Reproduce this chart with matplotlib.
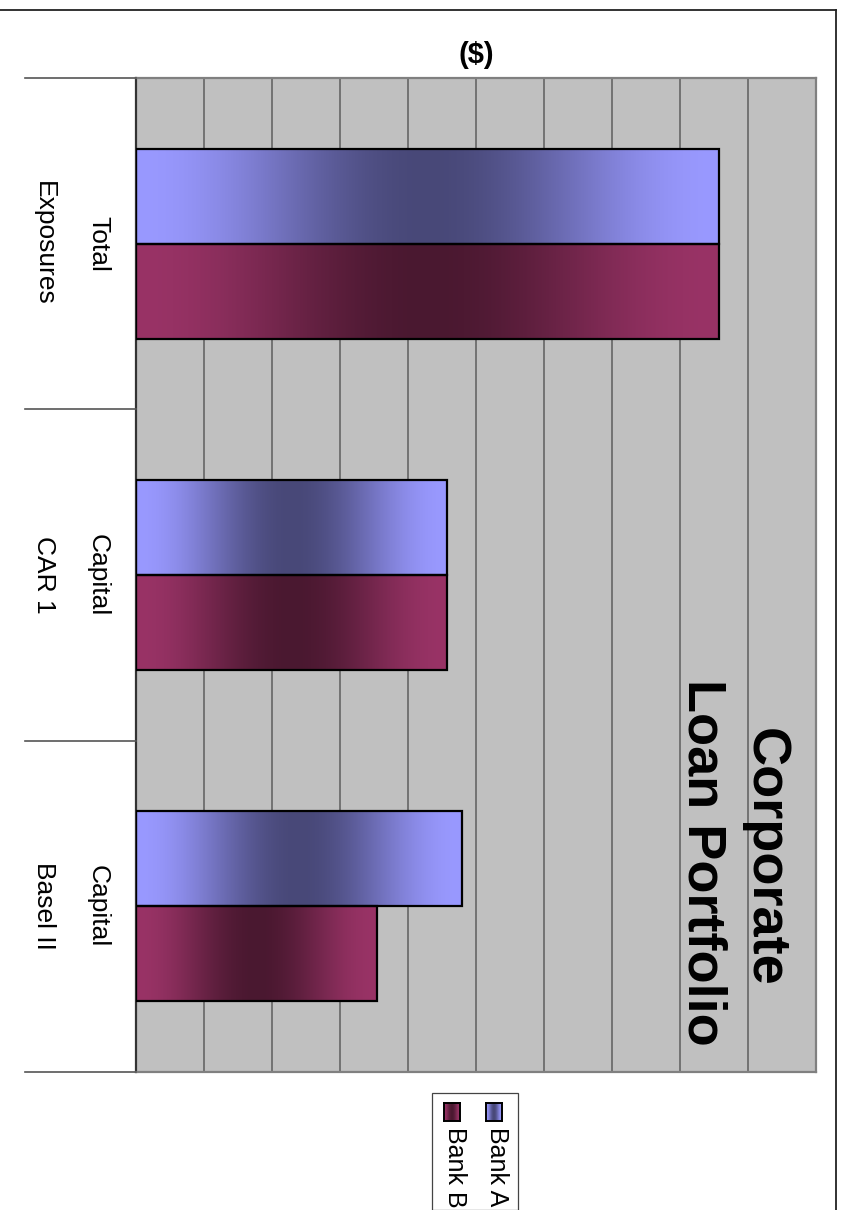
import numpy as np
import matplotlib
matplotlib.use("Agg")
import matplotlib.pyplot as plt
from matplotlib.lines import Line2D
from matplotlib.patches import Rectangle
from matplotlib.colors import to_rgb
import matplotlib.transforms as mtransforms

plt.rcParams['font.family'] = ['Liberation Sans', 'DejaVu Sans']

# Chart data
categories = ["Total\nExposures", "Capital\nCAR 1", "Capital\nBasel II"]
series_names = ["Bank A", "Bank B"]
bank_a = [8.58, 4.58, 4.79]
bank_b = [8.58, 4.58, 3.55]
title_lines = ["Corporate", "Loan Portfolio"]
value_label = "($)"

light = {"Bank A": "#9999FF", "Bank B": "#993366"}
dark = {"Bank A": "#484878", "Bank B": "#4A1830"}

W, H = 842, 1210
fig = plt.figure(figsize=(W / 100, H / 100), dpi=100)
fig.patch.set_facecolor("white")


def fx(px):
    return px / W


def fy(py):
    return 1 - py / H


def gradient(name, n=256):
    u = np.linspace(0, 1, n)
    t = np.sin(np.pi * u) ** 2
    c0 = np.array(to_rgb(light[name]))
    c1 = np.array(to_rgb(dark[name]))
    g = c0[None, :] * (1 - t[:, None]) + c1[None, :] * t[:, None]
    return g[None, :, :]


# Plot area
left, right, top, bottom = 136, 816, 78, 1072
ax = fig.add_axes([fx(left), fy(bottom), fx(right - left), (bottom - top) / H])
ax.set_facecolor("#C0C0C0")

n_cat = len(categories)
ypos = np.arange(n_cat)
bh = 0.287
ax.set_xlim(0, 10)
ax.set_ylim(n_cat - 0.5, -0.5)

for v in range(0, 11):
    ax.axvline(v, color="#5E5E5E", lw=1.1, zorder=1)

for name, vals, off in [("Bank A", bank_a, -bh / 2), ("Bank B", bank_b, bh / 2)]:
    bars = ax.barh(ypos + off, vals, height=bh, facecolor="none",
                   edgecolor="black", lw=1.6, zorder=3)
    for bar in bars:
        x0, y0 = bar.get_x(), bar.get_y()
        w, h = bar.get_width(), bar.get_height()
        im = ax.imshow(gradient(name), extent=[x0, x0 + w, y0 + h, y0],
                       aspect="auto", interpolation="bilinear", zorder=2)
        clip = Rectangle((x0, y0), w, h, transform=ax.transData)
        im.set_clip_path(clip)

ax.set_xlim(0, 10)
ax.set_ylim(n_cat - 0.5, -0.5)
ax.set_xticks([])
ax.set_yticks([])
for s in ["top", "right", "bottom"]:
    ax.spines[s].set_color("#808080")
    ax.spines[s].set_linewidth(1.6)
ax.spines["left"].set_color("#333333")
ax.spines["left"].set_linewidth(1.6)

# Category separators extending left of the axis
trans = mtransforms.blended_transform_factory(fig.transFigure, ax.transData)
for b in np.arange(n_cat + 1) - 0.5:
    fig.add_artist(Line2D([fx(25), fx(left)], [b, b], transform=trans,
                          color="#555555", lw=1.2))

# Category labels (rotated)
for i, cat in enumerate(categories):
    first, second = cat.split("\n")
    ax.text(fx(98), i, first, transform=trans, rotation=-90, ha="center",
            va="center", fontsize=19)
    ax.text(fx(44), i, second, transform=trans, rotation=-90, ha="center",
            va="center", fontsize=19)

# Title
fig.text(fx(765), fy(857), title_lines[0], rotation=-90, ha="center",
         va="center", fontsize=39, fontweight="bold")
fig.text(fx(702), fy(862), title_lines[1], rotation=-90, ha="center",
         va="center", fontsize=39, fontweight="bold")

# Value-axis label
fig.text(fx(476), fy(55), value_label, ha="center", va="center",
         fontsize=21, fontweight="bold")

# Outer chart frame
fig.add_artist(Line2D([0, fx(836)], [fy(10), fy(10)], transform=fig.transFigure,
                      color="#222222", lw=1.3))
fig.add_artist(Line2D([fx(836), fx(836)], [fy(10), 0], transform=fig.transFigure,
                      color="#222222", lw=1.3))

# Legend
fig.add_artist(Rectangle((fx(432), 0), fx(518) - fx(432), fy(1093),
                         transform=fig.transFigure, facecolor="white",
                         edgecolor="#444444", lw=0.9, zorder=1))
for name, cx in [("Bank A", 494), ("Bank B", 452)]:
    sw = fig.add_axes([fx(cx - 8), fy(1121), fx(16), 18 / H])
    sw.set_zorder(5)
    sw.imshow(gradient(name, n=64), aspect="auto", interpolation="bilinear")
    sw.set_xticks([])
    sw.set_yticks([])
    for s in sw.spines.values():
        s.set_color("black")
        s.set_linewidth(1.4)
    fig.text(fx(cx + 3), fy(1127), name, rotation=-90, ha="center", va="top",
             fontsize=18, zorder=6)

fig.savefig("out.png", dpi=100, facecolor="white")
